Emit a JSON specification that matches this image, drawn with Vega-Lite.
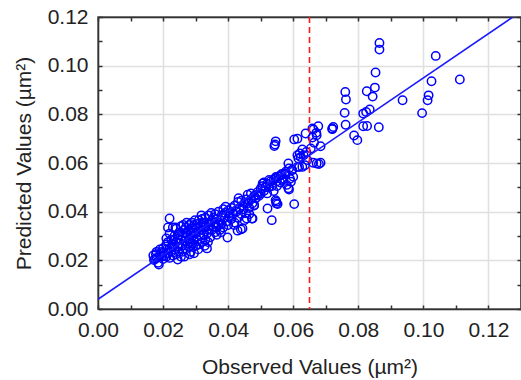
{
"$schema": "https://vega.github.io/schema/vega-lite/v6.json",
"width": 423, "height": 292,
"autosize": {"type": "none"},
"padding": {"left": 98, "top": 17, "right": 0, "bottom": 71},
"background": "white",
"config": {
 "view": {"stroke": "#333", "strokeWidth": 1.5},
 "axis": {"labelFont": "Liberation Sans", "titleFont": "Liberation Sans", "labelFontSize": 21, "titleFontSize": 21, "labelColor": "#222", "titleColor": "#222", "titleFontWeight": "normal", "domainColor": "#333", "domainWidth": 1.5, "tickColor": "#333", "tickWidth": 1.5, "tickSize": -4, "gridColor": "#e0e0e0", "gridWidth": 1.6, "labelOverlap": false, "labelFlush": false}
},
"datasets": {
 "pts": [
{"obs":0.0865,"pred":0.1093},{"obs":0.0865,"pred":0.1066},{"obs":0.1038,"pred":0.104},{"obs":0.0853,"pred":0.0972},{"obs":0.1112,"pred":0.0943},{"obs":0.1025,"pred":0.0936},{"obs":0.076,"pred":0.0892},{"obs":0.0762,"pred":0.0861},{"obs":0.0826,"pred":0.0895},{"obs":0.0851,"pred":0.091},{"obs":0.0844,"pred":0.0873},{"obs":0.0936,"pred":0.0858},{"obs":0.1016,"pred":0.0878},{"obs":0.1013,"pred":0.0858},{"obs":0.0996,"pred":0.0805},{"obs":0.0758,"pred":0.0806},{"obs":0.0815,"pred":0.0803},{"obs":0.0824,"pred":0.081},{"obs":0.0835,"pred":0.082},{"obs":0.0761,"pred":0.0757},{"obs":0.0815,"pred":0.0751},{"obs":0.0827,"pred":0.0752},{"obs":0.0863,"pred":0.0747},{"obs":0.072,"pred":0.0739},{"obs":0.0723,"pred":0.0748},{"obs":0.0787,"pred":0.0713},{"obs":0.0797,"pred":0.0694},
{"obs":0.0677,"pred":0.0751},{"obs":0.0662,"pred":0.0738},{"obs":0.0672,"pred":0.0714},{"obs":0.0684,"pred":0.0669},{"obs":0.0672,"pred":0.0598},{"obs":0.0679,"pred":0.0596},{"obs":0.0661,"pred":0.0601},{"obs":0.0638,"pred":0.0721},{"obs":0.0659,"pred":0.0742},{"obs":0.0603,"pred":0.0697},{"obs":0.0613,"pred":0.07},{"obs":0.0628,"pred":0.0656},{"obs":0.0623,"pred":0.0625},{"obs":0.0632,"pred":0.0632},{"obs":0.0613,"pred":0.0632},{"obs":0.0618,"pred":0.0584},{"obs":0.0628,"pred":0.0584},{"obs":0.0585,"pred":0.0598},{"obs":0.0664,"pred":0.0683},{"obs":0.0671,"pred":0.0724},{"obs":0.0659,"pred":0.0705},{"obs":0.0654,"pred":0.066},{"obs":0.062,"pred":0.0639},{"obs":0.064,"pred":0.0645},{"obs":0.0616,"pred":0.0619},{"obs":0.0643,"pred":0.0612},{"obs":0.0636,"pred":0.0591},{"obs":0.0613,"pred":0.0584},{"obs":0.0684,"pred":0.0601},{"obs":0.0597,"pred":0.0571},{"obs":0.0577,"pred":0.0557},{"obs":0.06,"pred":0.0543},{"obs":0.0567,"pred":0.053},{"obs":0.072,"pred":0.0742},{"obs":0.0544,"pred":0.0676},{"obs":0.0546,"pred":0.0689},{"obs":0.0542,"pred":0.067},{"obs":0.0603,"pred":0.0431},{"obs":0.0585,"pred":0.0496},
{"obs":0.0506,"pred":0.0516},{"obs":0.0526,"pred":0.053},{"obs":0.0547,"pred":0.0543},{"obs":0.0562,"pred":0.055},{"obs":0.0577,"pred":0.0564},{"obs":0.0587,"pred":0.0578},{"obs":0.0548,"pred":0.0441},{"obs":0.0521,"pred":0.0413},{"obs":0.048,"pred":0.0427},{"obs":0.0534,"pred":0.0365},{"obs":0.0548,"pred":0.0434},{"obs":0.0587,"pred":0.0491},{"obs":0.0593,"pred":0.0523},{"obs":0.0475,"pred":0.0372},{"obs":0.0455,"pred":0.0393},{"obs":0.0444,"pred":0.0331},
{"obs":0.0555,"pred":0.0545},{"obs":0.056,"pred":0.052},{"obs":0.0565,"pred":0.0555},{"obs":0.057,"pred":0.0535},{"obs":0.0575,"pred":0.0555},{"obs":0.058,"pred":0.051},{"obs":0.059,"pred":0.0535},{"obs":0.0595,"pred":0.057},
{"obs":0.0505,"pred":0.0505},{"obs":0.051,"pred":0.0485},{"obs":0.051,"pred":0.052},{"obs":0.0515,"pred":0.05},{"obs":0.052,"pred":0.0475},{"obs":0.052,"pred":0.0515},{"obs":0.0525,"pred":0.05},{"obs":0.053,"pred":0.0525},{"obs":0.0535,"pred":0.0505},{"obs":0.054,"pred":0.053},{"obs":0.054,"pred":0.0485},{"obs":0.0546,"pred":0.0447},{"obs":0.0552,"pred":0.0431},{"obs":0.055,"pred":0.0525},{"obs":0.055,"pred":0.0505},{"obs":0.0545,"pred":0.0538},
{"obs":0.0455,"pred":0.045},{"obs":0.0457,"pred":0.0372},{"obs":0.046,"pred":0.0435},{"obs":0.046,"pred":0.047},{"obs":0.0465,"pred":0.0415},{"obs":0.047,"pred":0.045},{"obs":0.047,"pred":0.0475},{"obs":0.0473,"pred":0.0372},{"obs":0.0475,"pred":0.0435},{"obs":0.048,"pred":0.0465},{"obs":0.048,"pred":0.0425},{"obs":0.0485,"pred":0.0455},{"obs":0.049,"pred":0.048},{"obs":0.049,"pred":0.047},{"obs":0.0495,"pred":0.0465},{"obs":0.05,"pred":0.0495},{"obs":0.05,"pred":0.0475},{"obs":0.0465,"pred":0.039},
{"obs":0.0405,"pred":0.0395},{"obs":0.041,"pred":0.037},{"obs":0.041,"pred":0.0415},{"obs":0.0415,"pred":0.039},{"obs":0.042,"pred":0.0355},{"obs":0.042,"pred":0.0425},{"obs":0.0425,"pred":0.04},{"obs":0.043,"pred":0.0375},{"obs":0.043,"pred":0.044},{"obs":0.0429,"pred":0.0322},{"obs":0.0439,"pred":0.0327},{"obs":0.0435,"pred":0.0415},{"obs":0.044,"pred":0.039},{"obs":0.044,"pred":0.0445},{"obs":0.0445,"pred":0.0425},{"obs":0.045,"pred":0.0365},{"obs":0.045,"pred":0.0435},{"obs":0.0418,"pred":0.0345},{"obs":0.0448,"pred":0.041},{"obs":0.0432,"pred":0.0455},
{"obs":0.0355,"pred":0.034},{"obs":0.0355,"pred":0.0375},{"obs":0.036,"pred":0.0315},{"obs":0.036,"pred":0.0355},{"obs":0.036,"pred":0.039},{"obs":0.0365,"pred":0.0335},{"obs":0.0365,"pred":0.037},{"obs":0.037,"pred":0.0345},{"obs":0.037,"pred":0.04},{"obs":0.0375,"pred":0.0325},{"obs":0.0375,"pred":0.0365},{"obs":0.038,"pred":0.0385},{"obs":0.038,"pred":0.035},{"obs":0.0385,"pred":0.041},{"obs":0.0385,"pred":0.0335},{"obs":0.039,"pred":0.0375},{"obs":0.039,"pred":0.0395},{"obs":0.0395,"pred":0.036},{"obs":0.0398,"pred":0.0294},{"obs":0.04,"pred":0.0405},{"obs":0.04,"pred":0.0345},{"obs":0.0365,"pred":0.0305},{"obs":0.0378,"pred":0.0315},{"obs":0.0392,"pred":0.042},{"obs":0.0402,"pred":0.038},
{"obs":0.0305,"pred":0.0285},{"obs":0.0305,"pred":0.035},{"obs":0.031,"pred":0.032},{"obs":0.031,"pred":0.0265},{"obs":0.031,"pred":0.0365},{"obs":0.0315,"pred":0.03},{"obs":0.0315,"pred":0.034},{"obs":0.032,"pred":0.0275},{"obs":0.032,"pred":0.0325},{"obs":0.032,"pred":0.037},{"obs":0.0325,"pred":0.0305},{"obs":0.0325,"pred":0.035},{"obs":0.033,"pred":0.0285},{"obs":0.033,"pred":0.0335},{"obs":0.033,"pred":0.0375},{"obs":0.0335,"pred":0.0249},{"obs":0.0335,"pred":0.031},{"obs":0.034,"pred":0.0355},{"obs":0.034,"pred":0.0325},{"obs":0.034,"pred":0.0385},{"obs":0.0345,"pred":0.0295},{"obs":0.0345,"pred":0.0345},{"obs":0.035,"pred":0.0365},{"obs":0.035,"pred":0.0325},{"obs":0.0308,"pred":0.0245},{"obs":0.0318,"pred":0.0385},{"obs":0.0328,"pred":0.026},{"obs":0.0338,"pred":0.0275},{"obs":0.0348,"pred":0.0395},{"obs":0.0322,"pred":0.0355},
{"obs":0.026,"pred":0.026},{"obs":0.026,"pred":0.03},{"obs":0.026,"pred":0.0235},{"obs":0.0265,"pred":0.0325},{"obs":0.0265,"pred":0.028},{"obs":0.027,"pred":0.0245},{"obs":0.027,"pred":0.0295},{"obs":0.027,"pred":0.0335},{"obs":0.0275,"pred":0.027},{"obs":0.0275,"pred":0.031},{"obs":0.028,"pred":0.0255},{"obs":0.028,"pred":0.0345},{"obs":0.028,"pred":0.029},{"obs":0.0285,"pred":0.0315},{"obs":0.0285,"pred":0.0235},{"obs":0.029,"pred":0.027},{"obs":0.029,"pred":0.033},{"obs":0.029,"pred":0.03},{"obs":0.0295,"pred":0.0229},{"obs":0.0295,"pred":0.0345},{"obs":0.0295,"pred":0.0285},{"obs":0.03,"pred":0.031},{"obs":0.03,"pred":0.026},{"obs":0.03,"pred":0.0335},{"obs":0.0265,"pred":0.0215},{"obs":0.0272,"pred":0.0355},{"obs":0.0282,"pred":0.0225},{"obs":0.0288,"pred":0.0355},{"obs":0.0262,"pred":0.0345},{"obs":0.0278,"pred":0.0285},{"obs":0.0292,"pred":0.0255},{"obs":0.0298,"pred":0.0365},{"obs":0.0268,"pred":0.031},{"obs":0.0284,"pred":0.0275},{"obs":0.0296,"pred":0.0315},
{"obs":0.0205,"pred":0.022},{"obs":0.021,"pred":0.0245},{"obs":0.021,"pred":0.0265},{"obs":0.021,"pred":0.0215},{"obs":0.0215,"pred":0.023},{"obs":0.0215,"pred":0.0275},{"obs":0.022,"pred":0.0372},{"obs":0.022,"pred":0.025},{"obs":0.022,"pred":0.021},{"obs":0.0225,"pred":0.0285},{"obs":0.0225,"pred":0.0235},{"obs":0.023,"pred":0.0335},{"obs":0.023,"pred":0.0265},{"obs":0.023,"pred":0.022},{"obs":0.0235,"pred":0.03},{"obs":0.0235,"pred":0.0245},{"obs":0.024,"pred":0.0275},{"obs":0.024,"pred":0.0225},{"obs":0.024,"pred":0.033},{"obs":0.0245,"pred":0.0203},{"obs":0.0245,"pred":0.0255},{"obs":0.0245,"pred":0.029},{"obs":0.025,"pred":0.0315},{"obs":0.025,"pred":0.0235},{"obs":0.025,"pred":0.027},{"obs":0.0255,"pred":0.0215},{"obs":0.0255,"pred":0.034},{"obs":0.0255,"pred":0.0285},{"obs":0.0215,"pred":0.0335},{"obs":0.022,"pred":0.031},{"obs":0.0232,"pred":0.0285},{"obs":0.0238,"pred":0.0335},{"obs":0.021,"pred":0.029},{"obs":0.0228,"pred":0.0258},{"obs":0.0248,"pred":0.0305},
{"obs":0.017,"pred":0.022},{"obs":0.0175,"pred":0.0205},{"obs":0.018,"pred":0.0235},{"obs":0.018,"pred":0.021},{"obs":0.0185,"pred":0.019},{"obs":0.0187,"pred":0.0183},{"obs":0.019,"pred":0.0245},{"obs":0.019,"pred":0.022},{"obs":0.0195,"pred":0.0215},{"obs":0.0195,"pred":0.0235},{"obs":0.02,"pred":0.025},{"obs":0.02,"pred":0.0205},{"obs":0.02,"pred":0.023},{"obs":0.0172,"pred":0.0201},{"obs":0.0178,"pred":0.0225}
 ],
 "fit": [{"obs": 0, "pred": 0.004}, {"obs": 0.1275, "pred": 0.12}],
 "cut": [{"obs": 0.065}]
},
"layer": [
 {"data": {"name": "pts"},
  "mark": {"type": "point", "shape": "circle", "filled": false, "color": "#0000ff", "size": 70, "strokeWidth": 1.5, "opacity": 1},
  "encoding": {
   "x": {"field": "obs", "type": "quantitative", "scale": {"domain": [0, 0.13], "nice": false, "zero": false},
     "axis": {"orient": "bottom", "values": [0,0.01,0.02,0.03,0.04,0.05,0.06,0.07,0.08,0.09,0.1,0.11,0.12], "labelExpr": "round(datum.value*100)%2==0 ? format(datum.value,'.2f') : ''", "gridOpacity": {"condition": {"test": "round(datum.value*100)%2==1", "value": 0}, "value": 1}, "title": "Observed Values (µm²)", "labelPadding": 14, "titlePadding": 16}},
   "y": {"field": "pred", "type": "quantitative", "scale": {"domain": [0, 0.12], "nice": false, "zero": false},
     "axis": {"orient": "left", "values": [0,0.01,0.02,0.03,0.04,0.05,0.06,0.07,0.08,0.09,0.1,0.11,0.12], "labelExpr": "round(datum.value*100)%2==0 ? format(datum.value,'.2f') : ''", "gridOpacity": {"condition": {"test": "round(datum.value*100)%2==1", "value": 0}, "value": 1}, "title": "Predicted Values (µm²)", "labelPadding": 14, "titlePadding": 13}}
  }},
 {"data": {"name": "fit"},
  "mark": {"type": "line", "color": "#1a1aff", "strokeWidth": 1.6, "clip": true},
  "encoding": {
   "x": {"field": "obs", "type": "quantitative", "scale": {"domain": [0, 0.13], "nice": false, "zero": false},
     "axis": {"orient": "top", "values": [0,0.01,0.02,0.03,0.04,0.05,0.06,0.07,0.08,0.09,0.1,0.11,0.12], "labels": false, "grid": false, "title": null}},
   "y": {"field": "pred", "type": "quantitative", "scale": {"domain": [0, 0.12], "nice": false, "zero": false},
     "axis": {"orient": "right", "values": [0,0.01,0.02,0.03,0.04,0.05,0.06,0.07,0.08,0.09,0.1,0.11,0.12], "labels": false, "grid": false, "title": null}}
  }},
 {"data": {"name": "cut"},
  "mark": {"type": "rule", "color": "#ff1a1a", "strokeDash": [6, 4], "strokeWidth": 1.6},
  "encoding": {"x": {"field": "obs", "type": "quantitative", "axis": null}}}
],
"resolve": {"axis": {"x": "independent", "y": "independent"}}
}
